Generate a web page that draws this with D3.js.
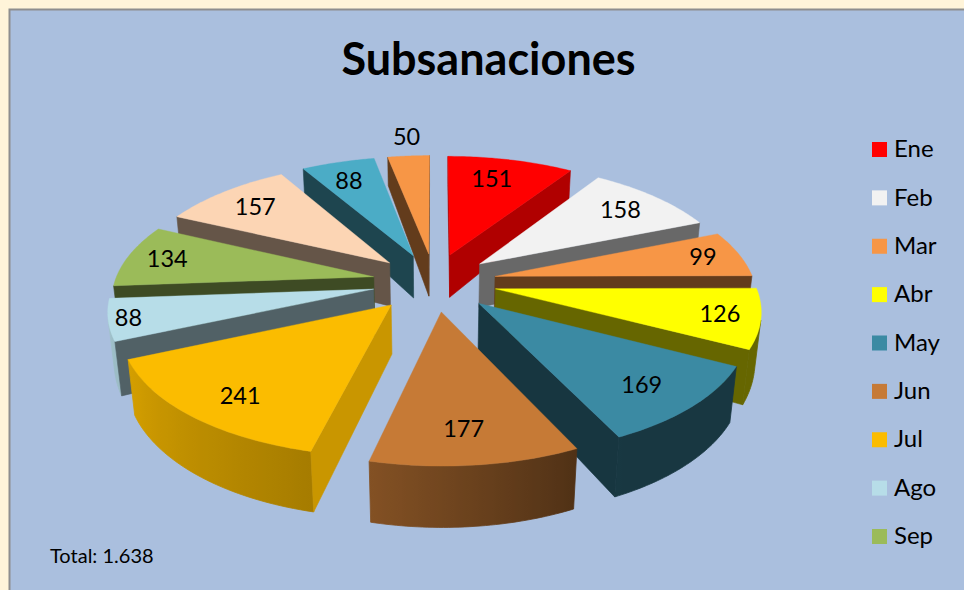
<!DOCTYPE html>
<html><head><meta charset="utf-8">
<style>html,body{margin:0;padding:0;background:#fff4d9;overflow:hidden}svg{display:block}text{font-family:Lato,"Open Sans",sans-serif}</style>
<script src="https://cdn.jsdelivr.net/npm/d3@7/dist/d3.min.js"></script></head><body>
<script>
const months = ["Ene","Feb","Mar","Abr","May","Jun","Jul","Ago","Sep","Oct","Nov","Dic"];
const values = [151,158,99,126,169,177,241,88,134,157,88,50];
const colors = ["#ff0000","#f2f2f2","#f79646","#ffff00","#3b8aa3","#c67a36","#fbbc00","#b7dde8","#9bbb59","#fcd5b4","#4bacc6","#f79646"];
const radialShade = [.69,.43,.4,.4,.39,.4,.8,.44,.4,.4,.4,.4];
const labelRadius = [.78,.79,.85,.85,.81,.79,.83,.93,.84,.77,.78,1.23];
const labelNudge = [-7,0,0,0,-6,-4,11,1,0,-4,-4,2];
const sliceNudge = [-.007,-.007,0,0,0,0,-.009,0,0,0,0,0];
const legendMonths = months.slice(0,9);
const title = "Subsanaciones", totalText = "Total: 1.638";

const W=964,H=590;
const svg=d3.select("body").append("svg").attr("width",W).attr("height",H);
const defs=svg.append("defs");
svg.append("rect").attr("width",W).attr("height",H).attr("fill","#fff4d9");
svg.append("rect").attr("x",9.5).attr("y",9.5).attr("width",W).attr("height",H).attr("fill","#aabfde").attr("stroke","#8e8e8e").attr("stroke-width",2);

const cx=434.5,cy=282,A=259,B=121,k=.15,explode=.24;
const proj=(X,Z)=>{const w=1/(1+k*Z);return {x:cx+A*X*w,y:cy-B*Z*w,w};};
const depth=d3.scaleLinear().domain([.85,1.08,1.22]).range([29,55,61]);
const under=p=>{const h=depth(p.w);return {x:cx+(p.x-cx)*(1-.022*h/57),y:p.y+h};};
const arcShade=d3.scaleLinear().domain([0,154,193,246,270,360].map(d=>d*Math.PI/180)).range([.4,.4,.66,.85,.95,.95]);
const line=d3.line().x(d=>d.x).y(d=>d.y);
const shade=(c,f)=>{const r=d3.rgb(c);return d3.rgb(r.r*f,r.g*f,r.b*f).formatHex();};

const arcs=d3.pie().sort(null)(values).map((a,i)=>{
  const mid=(a.startAngle+a.endAngle)/2;
  const ox=explode*Math.sin(mid)+sliceNudge[i],oz=explode*Math.cos(mid);
  const apex=proj(ox,oz);
  const pts=d3.range(0,41).map(j=>{
    const t=a.startAngle+(a.endAngle-a.startAngle)*j/40;
    return Object.assign(proj(ox+Math.sin(t),oz+Math.cos(t)),{t});
  });
  return {i,mid,ox,oz,apex,pts};
}).sort((p,q)=>p.apex.y-q.apex.y);

const area=q=>d3.polygonArea(q.map(p=>[p.x,p.y]));
const g=svg.append("g");
arcs.forEach(s=>{
  const c=colors[s.i],S=s.pts[0],E=s.pts[40];
  const quad=(a,b)=>[a,b,under(b),under(a)];
  const front=s.pts.filter((p,j)=>j<40&&area(quad(p,s.pts[j+1]))>0||j>0&&area(quad(s.pts[j-1],p))>0);
  if(front.length>1){
    const id="wall"+s.i,x0=front[0].x,x1=front[front.length-1].x;
    const lg=defs.append("linearGradient").attr("id",id).attr("gradientUnits","userSpaceOnUse")
      .attr("x1",x0).attr("y1",0).attr("x2",x1).attr("y2",0);
    front.forEach(p=>lg.append("stop").attr("offset",Math.max(0,Math.min(1,(p.x-x0)/((x1-x0)||1)))).attr("stop-color",shade(c,arcShade(p.t))));
    g.append("path").attr("d",line([...front,...front.map(under).reverse()])+"Z").attr("fill",`url(#${id})`).attr("stroke",`url(#${id})`).attr("stroke-width",.8);
  }
  [quad(s.apex,S),quad(E,s.apex)].forEach(q=>{
    if(area(q)>0) g.append("path").attr("d",line(q)+"Z").attr("fill",shade(c,radialShade[s.i])).attr("stroke",shade(c,radialShade[s.i])).attr("stroke-width",.6);
  });
  g.append("path").attr("d",line([s.apex,...s.pts])+"Z").attr("fill",c).attr("stroke",c).attr("stroke-width",.4);
});
arcs.forEach(s=>{
  const r=labelRadius[s.i],p=proj(s.ox+r*Math.sin(s.mid),s.oz+r*Math.cos(s.mid));
  svg.append("text").attr("x",p.x+labelNudge[s.i]).attr("y",p.y).attr("dy","0.35em").attr("text-anchor","middle")
    .attr("font-size",23.5).attr("fill","#000").text(values[s.i]);
});
svg.append("text").attr("x",488.5).attr("y",75).attr("text-anchor","middle").attr("font-size",45).attr("font-weight",700).attr("fill","#000").text(title);
svg.append("text").attr("x",50).attr("y",563).attr("font-size",20).attr("fill","#000").text(totalText);
const ly=d3.scalePoint().domain(legendMonths).range([149.5,536.5]);
const leg=svg.append("g").selectAll("g").data(legendMonths).join("g").attr("transform",d=>`translate(872,${ly(d)})`);
leg.append("rect").attr("y",-7.5).attr("width",15).attr("height",15).attr("fill",d=>colors[months.indexOf(d)]);
leg.append("text").attr("x",22).attr("dy","0.32em").attr("font-size",24).attr("fill","#000").text(d=>d);
</script></body></html>
